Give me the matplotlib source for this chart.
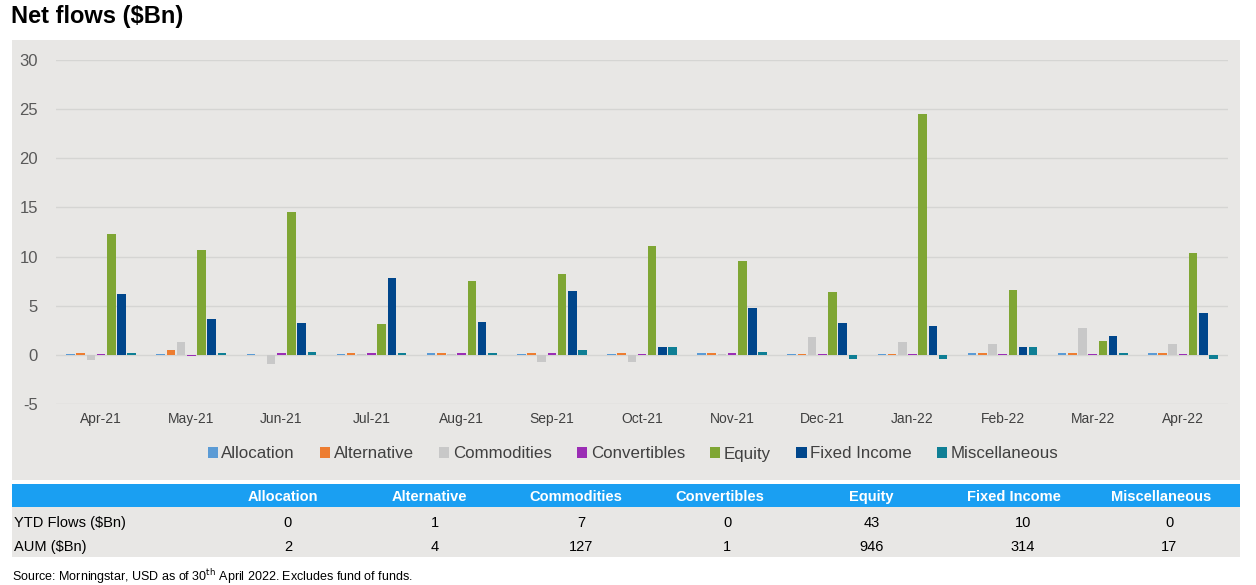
import numpy as np
import matplotlib
matplotlib.use('Agg')
import matplotlib.pyplot as plt
from matplotlib.patches import Rectangle, Patch

plt.rcParams['font.family'] = ['Liberation Sans', 'DejaVu Sans']
plt.rcParams['axes.unicode_minus'] = False

# Datos
meses = ['Apr-21', 'May-21', 'Jun-21', 'Jul-21', 'Aug-21', 'Sep-21', 'Oct-21',
         'Nov-21', 'Dec-21', 'Jan-22', 'Feb-22', 'Mar-22', 'Apr-22']
series = ['Allocation', 'Alternative', 'Commodities', 'Convertibles',
          'Equity', 'Fixed Income', 'Miscellaneous']
allocation = [0.1, 0.1, 0.1, 0.1, 0.15, 0.05, 0.05, 0.15, 0.05, 0.05, 0.15, 0.15, 0.15]
alternative = [0.15, 0.5, -0.05, 0.15, 0.15, 0.15, 0.15, 0.15, 0.05, 0.05, 0.15, 0.15, 0.15]
commodities = [-0.5, 1.3, -0.9, 0.05, 0.05, -0.7, -0.7, 0.05, 1.8, 1.3, 1.1, 2.7, 1.1]
convertibles = [0.05, -0.1, 0.15, 0.15, 0.15, 0.15, 0.05, 0.15, 0.05, 0.05, 0.05, 0.05, 0.05]
equity = [12.3, 10.7, 14.5, 3.1, 7.5, 8.2, 11.1, 9.5, 6.4, 24.5, 6.6, 1.4, 10.4]
fixed_income = [6.2, 3.6, 3.2, 7.8, 3.3, 6.5, 0.8, 4.8, 3.2, 2.9, 0.75, 1.9, 4.3]
miscellaneous = [0.15, 0.15, 0.3, 0.15, 0.15, 0.5, 0.8, 0.3, -0.4, -0.4, 0.75, 0.15, -0.4]

ytd_flows = ['0', '1', '7', '0', '43', '10', '0']
aum = ['2', '4', '127', '1', '946', '314', '17']

colores = ['#5b9bd5', '#ed7d31', '#c8c8c8', '#9b2db5', '#7fa634', '#00468b', '#0f7f95']
fondo = '#e8e7e5'

valores = [allocation, alternative, commodities, convertibles, equity, fixed_income, miscellaneous]

W, H = 1256, 585
fig = plt.figure(figsize=(W / 100, H / 100), dpi=100)


def fx(px):
    return px / W


def fy(py):
    return 1 - py / H


def caja(x0, y0, x1, y1, color):
    fig.patches.append(Rectangle((fx(x0), fy(y1)), fx(x1) - fx(x0), fy(y0) - fy(y1),
                                 transform=fig.transFigure, facecolor=color,
                                 edgecolor='none', zorder=-5))


# Panel gris del grafico
caja(12, 40, 1240, 480, fondo)

ax = fig.add_axes([fx(56), fy(404), fx(1228) - fx(56), fy(60) - fy(404)])
ax.patch.set_alpha(0)

x = np.arange(len(meses))
paso = 0.113
ancho = 0.095
for k, (nombre, vals) in enumerate(zip(series, valores)):
    ax.bar(x + (k - 3) * paso, vals, width=ancho, color=colores[k], label=nombre, zorder=3)

ax.set_xlim(-0.5, len(meses) - 0.5)
ax.set_ylim(-5, 30)
ax.set_yticks(range(-5, 31, 5))
ax.set_xticks(x)
ax.set_xticklabels(meses, fontsize=10, color='#404040')
ax.tick_params(axis='y', labelsize=12, colors='#595959', length=0, pad=13)
ax.tick_params(axis='x', length=0, pad=6)
ax.grid(axis='y', color='#d5d5d3', linewidth=1, zorder=0)
for s in ax.spines.values():
    s.set_visible(False)

handles = [Patch(facecolor=c, edgecolor='none') for c in colores]
fig.legend(handles, series, loc='center', bbox_to_anchor=(fx(633), fy(454)), ncol=7,
           frameon=False, fontsize=12.2, handlelength=0.6, handleheight=0.6,
           handletextpad=0.2, columnspacing=1.5, labelcolor='#404040')

# Titulo y fuente
fig.text(fx(11), fy(17), 'Net flows ($Bn)', fontsize=17, fontweight='bold', va='center', ha='left')
fig.text(fx(12), fy(577), 'Source: Morningstar, USD as of 30$^{\\rm th}$ April 2022. Excludes fund of funds.',
         fontsize=9, va='center', ha='left')

# Tabla
caja(12, 484, 1240, 507, '#1a9ff2')
caja(12, 507, 1240, 557, fondo)

col_enc = [283, 429, 576, 720, 871, 1014, 1161]
col_val = [288, 435, 581, 727, 872, 1023, 1169]
for ce, cv, nombre, v1, v2 in zip(col_enc, col_val, series, ytd_flows, aum):
    fig.text(fx(ce), fy(497), nombre, color='white', fontsize=10.5, fontweight='bold', ha='center', va='center')
    fig.text(fx(cv), fy(523), v1, fontsize=10.5, ha='center', va='center')
    fig.text(fx(cv), fy(547), v2, fontsize=10.5, ha='center', va='center')
fig.text(fx(14), fy(523), 'YTD Flows ($Bn)', fontsize=10.5, ha='left', va='center')
fig.text(fx(14), fy(547), 'AUM ($Bn)', fontsize=10.5, ha='left', va='center')

fig.savefig('out.png', dpi=100, facecolor='white')
